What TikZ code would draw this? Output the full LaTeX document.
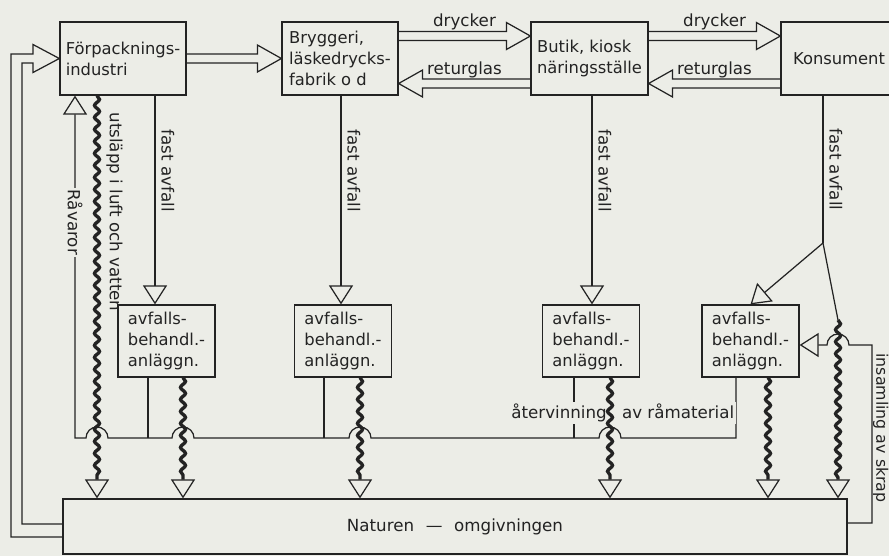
\documentclass[tikz,border=0pt]{standalone}
\usepackage{fontspec}
\setmainfont{DejaVu Sans}
\usetikzlibrary{arrows.meta,calc,decorations.pathmorphing}

\definecolor{paper}{RGB}{236,237,231}
\definecolor{ink}{RGB}{35,35,35}

% broad hollow arrow: from, to, y offset, head length (sign gives direction)
\newcommand{\bigflow}[4]{%
  \draw ($(#1)+(0,{#3-4.5})$) -- ($(#2)+({-1*(#4)},{#3-4.5})$) -- ++(0,-9)
    -- ($(#2)+(0,#3)$) -- ($(#2)+({-1*(#4)},{#3+13.5})$) -- ++(0,-9)
    -- ($(#1)+(0,{#3+4.5})$);}

\begin{document}
\begin{tikzpicture}[x=0.02cm,y=-0.02cm,color=ink,line width=0.7pt,
  box/.style={draw,align=left,font=\fontsize{9.3}{12}\selectfont,minimum height=1.46cm},
  wastebox/.style={box,minimum width=1.94cm,minimum height=1.44cm},
  lbl/.style={font=\fontsize{9.5}{12}\selectfont},
  vlbl/.style={lbl,rotate=-90,anchor=south},
  flowlbl/.style={lbl,anchor=south,inner sep=0.5pt},
  fall/.style={-{Triangle[open,width=4.8mm,length=3.8mm]}},
  wavy/.style={line width=1.9pt,decorate,
    decoration={snake,amplitude=0.5mm,segment length=2.4mm,post length=4mm},
    -{Triangle[open,width=4.8mm,length=3.8mm,line width=0.7pt]}}]
\fill[paper] (0,0) rectangle (889,556);
\useasboundingbox (0,0) rectangle (889,556);

\coordinate (ret) at (0,438);
\coordinate (rv) at (75,0);
\coordinate (w0) at (97,0);
\coordinate (w1) at (183,0);
\coordinate (w2) at (360,0);
\coordinate (w3) at (610,0);
\coordinate (w4) at (768,0);
\coordinate (w5) at (838,0);
\coordinate (f1) at (155,0);
\coordinate (f2) at (341,0);
\coordinate (f3) at (592,0);
\coordinate (f4) at (823,0);
\coordinate (r1) at (148,0);
\coordinate (r2) at (324,0);
\coordinate (r3) at (574,0);
\coordinate (r4) at (736,0);
\coordinate (J) at (823,243);
\coordinate (s5) at (838,320);
\coordinate (sk) at (872,345);
\coordinate (sk2) at (872,523);

% The boxes
\node[box,minimum width=2.52cm] (fp) at (123,58.5) {Förpacknings-\\industri};
\node[box,minimum width=2.32cm] (bry) at (340,58.5) {Bryggeri,\\läskedrycks-\\fabrik o d};
\node[box,minimum width=2.34cm] (but) at (589.5,58.5) {Butik, kiosk\\näringsställe};
\node[box,minimum width=2.32cm] (kon) at (839,58.5) {Konsument};
\node[wastebox] (av1) at (166.5,341) {avfalls-\\behandl.-\\anläggn.};
\node[wastebox] (av2) at (343,341) {avfalls-\\behandl.-\\anläggn.};
\node[wastebox] (av3) at (591,341) {avfalls-\\behandl.-\\anläggn.};
\node[wastebox] (av4) at (750.5,341) {avfalls-\\behandl.-\\anläggn.};
\node[draw,lbl,minimum width=15.68cm,minimum height=1.1cm] (nat) at (455,526.5)
  {Naturen\hspace{0.7em}—\hspace{0.7em}omgivningen};

% The goods
\bigflow{fp.east}{bry.west}{0}{24}
\bigflow{bry.east}{but.west}{-22.5}{24}
\bigflow{but.west}{bry.east}{25}{-24}
\bigflow{but.east}{kon.west}{-22.5}{24}
\bigflow{kon.west}{but.east}{25}{-24}
\node[flowlbl] at ($(bry.east)!0.5!(but.west)+(0,-27)$) {drycker};
\node[flowlbl] at ($(bry.east)!0.5!(but.west)+(0,20.5)$) {returglas};
\node[flowlbl] at ($(but.east)!0.5!(kon.west)+(0,-27)$) {drycker};
\node[flowlbl] at ($(but.east)!0.5!(kon.west)+(0,20.5)$) {returglas};
\draw (nat.west |- 0,537) -| (11,54) -- (33,54) -- (33,44.5) -- (fp.west)
  -- (33,72.5) -- (33,63) -| (22,524) -- (nat.west |- 0,524);

% The solid waste
\draw[fall] (fp.south -| f1) -- (av1.north -| f1) node[vlbl,pos=0.36] {fast avfall};
\draw[fall] (bry.south -| f2) -- (av2.north -| f2) node[vlbl,pos=0.36] {fast avfall};
\draw[fall] (but.south -| f3) -- (av3.north -| f3) node[vlbl,pos=0.36] {fast avfall};
\draw (kon.south -| f4) -- (J) node[vlbl,midway] {fast avfall};
\draw[fall] (J) -- (av4.north);
\draw (J) -- (s5);

% The recycling
\draw (av1.south -| r1) -- (r1 |- ret);
\draw (av2.south -| r2) -- (r2 |- ret);
\draw (av3.south -| r3) -- (r3 |- ret);
\draw[fall] (av4.south -| r4) -- (r4 |- ret)
  -- ($(w3 |- ret)+(11,0)$) arc[start angle=0,end angle=180,radius=0.22cm]
  -- ($(w2 |- ret)+(11,0)$) arc[start angle=0,end angle=180,radius=0.22cm]
  -- ($(w1 |- ret)+(11,0)$) arc[start angle=0,end angle=180,radius=0.22cm]
  -- ($(w0 |- ret)+(11,0)$) arc[start angle=0,end angle=180,radius=0.22cm]
  -- (rv |- ret) -- (fp.south -| rv)
  node[lbl,rotate=-90,fill=paper,inner sep=1pt,pos=0.63] {Råvaror};
\node[lbl,fill=paper,inner sep=1pt,anchor=west] (atv) at (509,413)
  {återvinning\hspace{0.2cm} av råmaterial};
\draw[fall] (nat.east |- sk2) -- (sk2) -- (sk)
  -- ($(w5 |- sk)+(11,0)$) arc[start angle=0,end angle=180,radius=0.22cm]
  -- (av4.east |- sk);
\node[vlbl,inner sep=0pt,font=\fontsize{9}{11}\selectfont] at ($(sk |- 0,428)+(0.5,0)$)
  {insamling av skrap};

% The emissions
\draw[wavy] (fp.south -| w0) -- (nat.north -| w0);
\draw[wavy] (av1.south -| w1) -- (nat.north -| w1);
\draw[wavy] (av2.south -| w2) -- (nat.north -| w2);
\draw[wavy] (av3.south -| w3) -- (nat.north -| w3);
\draw[wavy] (av4.south -| w4) -- (nat.north -| w4);
\draw[wavy] (s5) -- (nat.north -| w5);
\node[vlbl] at ($(w0 |- 0,212)+(3,0)$) {utsläpp i luft och vatten};
\end{tikzpicture}
\end{document}
